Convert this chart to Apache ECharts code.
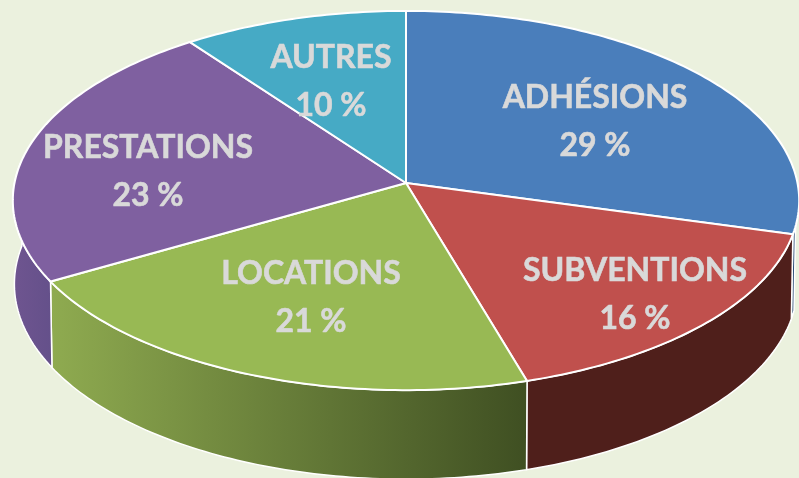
<!DOCTYPE html>
<html>
<head>
<meta charset="utf-8">
<style>
  html, body { margin: 0; padding: 0; background: #ebf1de; }
  #chart { width: 799px; height: 478px; overflow: hidden; }
</style>
<script src="https://cdn.jsdelivr.net/npm/echarts@6/dist/echarts.min.js"></script>
</head>
<body>
<div id="chart"></div>
<script>
const categories = ['ADHÉSIONS', 'SUBVENTIONS', 'LOCATIONS', 'PRESTATIONS', 'AUTRES'];
const shares = [29, 16, 21, 23, 10];

const topColors = ['#4a7ebb', '#c0504d', '#98b954', '#7f60a0', '#46aac5'];
const rimColors = [
  ['#2f4f78', '#2f4f78'],
  ['#4f1f1b', '#4f1f1b'],
  ['#8fab50', '#3f4f22'],
  ['#6f5590', '#64508a'],
  ['#2f7386', '#2f7386']
];
// centre of the two text lines of each label
const labelCentres = [[595, 121], [635, 294], [311, 297], [148, 171], [331, 81]];

// pie tilt and perspective: apex of the slices, radii, depth of the rim
const apexX = 406, apexY = 183;
const radiusX = 391.5, radiusY = 188, perspective = 0.0924;
const rimBase = 83, rimGrow = 6, rimShrink = 0.996;
// the rim only shows between these angles
const rimStart = 103, rimEnd = 276;

const total = shares.reduce((a, b) => a + b, 0);
let running = 0;
const sliceAngles = shares.map(v => {
  const from = running / total * 360;
  running += v;
  return [from, running / total * 360];
});

// angle is clockwise from the top of the disc, withRim gives the lower edge of the rim
function project(angle, withRim) {
  const r = angle * Math.PI / 180;
  const u = Math.sin(r), v = -Math.cos(r);
  const d = 1 - perspective * v;
  return [
    apexX + radiusX * u / d * (withRim ? rimShrink : 1),
    apexY + radiusY * v / d + (withRim ? rimBase + rimGrow * v : 0)
  ];
}

function arc(from, to, withRim) {
  const pts = [];
  const steps = Math.max(2, Math.ceil(Math.abs(to - from)));
  for (let i = 0; i <= steps; i++) {
    pts.push(project(from + (to - from) * i / steps, withRim));
  }
  return pts;
}

function renderRim(params) {
  const a = sliceAngles[params.dataIndex];
  const from = Math.max(a[0], rimStart), to = Math.min(a[1], rimEnd);
  if (to <= from) return { type: 'group', children: [] };
  const stops = rimColors[params.dataIndex];
  return {
    type: 'polygon',
    shape: { points: arc(from, to, false).concat(arc(to, from, true)) },
    style: {
      fill: new echarts.graphic.LinearGradient(0, 0, 1, 0, [
        { offset: 0, color: stops[0] },
        { offset: 1, color: stops[1] }
      ]),
      stroke: '#ffffff',
      lineWidth: 1.5
    }
  };
}

function renderTop(params) {
  const a = sliceAngles[params.dataIndex];
  return {
    type: 'polygon',
    shape: { points: [[apexX, apexY]].concat(arc(a[0], a[1], false)) },
    style: { fill: topColors[params.dataIndex], stroke: '#ffffff', lineWidth: 2 }
  };
}

function renderLabel(params, api) {
  const c = labelCentres[params.dataIndex];
  const base = {
    fill: '#d9d9d9',
    stroke: '#d9d9d9',
    lineWidth: 0.6,
    font: 'bold 32px Lato, sans-serif',
    textAlign: 'center',
    textVerticalAlign: 'middle'
  };
  return {
    type: 'group',
    children: [
      { type: 'text', style: Object.assign({ text: categories[params.dataIndex], x: c[0], y: c[1] - 23 }, base) },
      { type: 'text', style: Object.assign({ text: api.value(0) + ' %', x: c[0], y: c[1] + 25 }, base) }
    ]
  };
}

const chart = echarts.init(document.getElementById('chart'));
chart.setOption({
  backgroundColor: '#ebf1de',
  animation: false,
  series: [
    { type: 'custom', coordinateSystem: 'none', z: 1, silent: true, renderItem: renderRim, data: shares },
    { type: 'custom', coordinateSystem: 'none', z: 2, silent: true, renderItem: renderTop, data: shares },
    { type: 'custom', coordinateSystem: 'none', z: 3, silent: true, renderItem: renderLabel, data: shares }
  ]
});
</script>
</body>
</html>
